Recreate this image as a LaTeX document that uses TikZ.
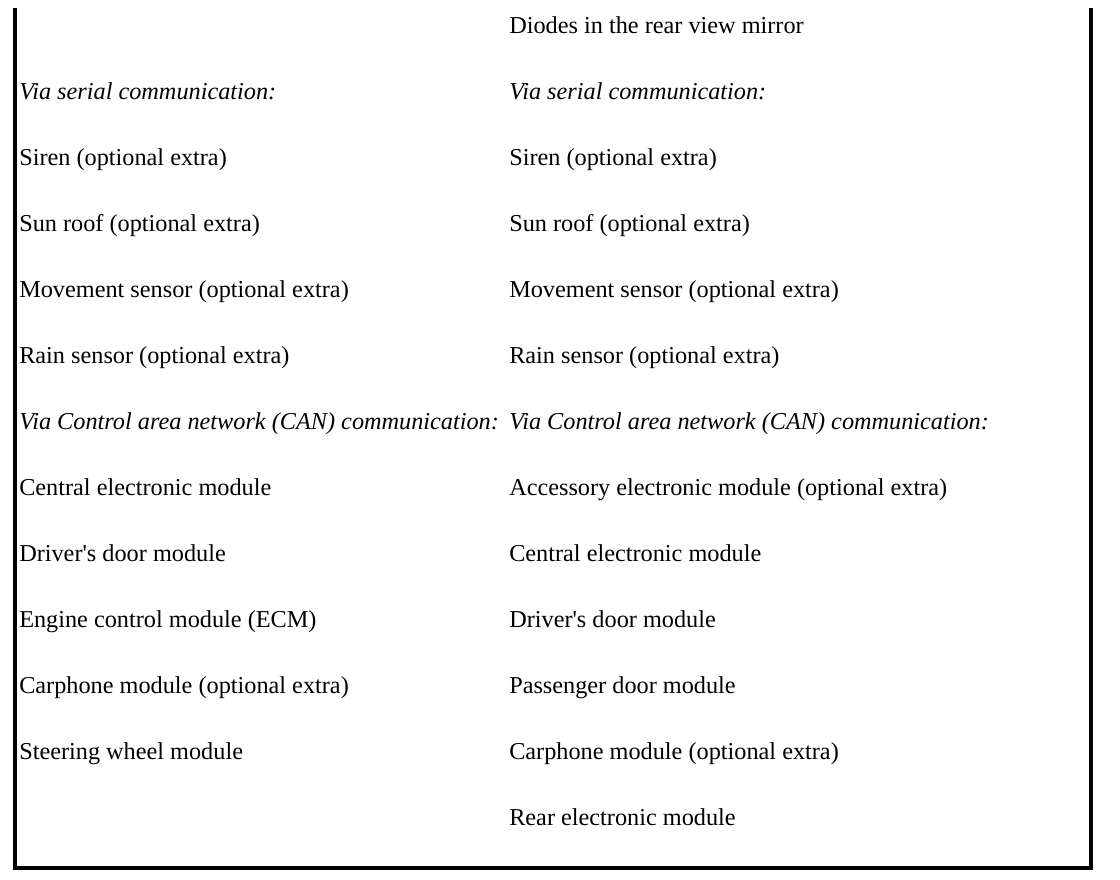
\documentclass[tikz,border=0pt]{standalone}
\usepackage{fontspec}
\setmainfont{Liberation Serif}[Ligatures=TeXOff]
\begin{document}
\begin{tikzpicture}[x=0.75pt,y=-0.75pt,
  cell/.style={anchor=base west,inner sep=0pt,font=\fontsize{18.2}{22}\selectfont},
  celli/.style={cell,font=\fontsize{18.2}{22}\selectfont\itshape},
  frame/.style={line width=3pt,line cap=butt,line join=miter}]
\useasboundingbox (0,0) rectangle (1120,880);
\draw[frame] (15,8) -- (15,868) -- (1091,868) -- (1091,8);
% left column
\node[celli] (l1) at (19,99.5) {Via serial communication:};
\node[cell] (l2) at (19,165.5) {Siren (optional extra)};
\node[cell] (l3) at (19,231.5) {Sun roof (optional extra)};
\node[cell] (l4) at (19,297.5) {Movement sensor (optional extra)};
\node[cell] (l5) at (19,363.5) {Rain sensor (optional extra)};
\node[celli] (l6) at (19,429.5) {Via Control area network (CAN) communication:};
\node[cell] (l7) at (19,495.5) {Central electronic module};
\node[cell] (l8) at (19,561.5) {Driver's door module};
\node[cell] (l9) at (19,627.5) {Engine control module (ECM)};
\node[cell] (l10) at (19,693.5) {Carphone module (optional extra)};
\node[cell] (l11) at (19,759.5) {Steering wheel module};
% right column
\node[cell] (r0) at (509,33.5) {Diodes in the rear view mirror};
\node[celli] (r1) at (509,99.5) {Via serial communication:};
\node[cell] (r2) at (509,165.5) {Siren (optional extra)};
\node[cell] (r3) at (509,231.5) {Sun roof (optional extra)};
\node[cell] (r4) at (509,297.5) {Movement sensor (optional extra)};
\node[cell] (r5) at (509,363.5) {Rain sensor (optional extra)};
\node[celli] (r6) at (509,429.5) {Via Control area network (CAN) communication:};
\node[cell] (r7) at (509,495.5) {Accessory electronic module (optional extra)};
\node[cell] (r8) at (509,561.5) {Central electronic module};
\node[cell] (r9) at (509,627.5) {Driver's door module};
\node[cell] (r10) at (509,693.5) {Passenger door module};
\node[cell] (r11) at (509,759.5) {Carphone module (optional extra)};
\node[cell] (r12) at (509,825.5) {Rear electronic module};
\end{tikzpicture}
\end{document}
